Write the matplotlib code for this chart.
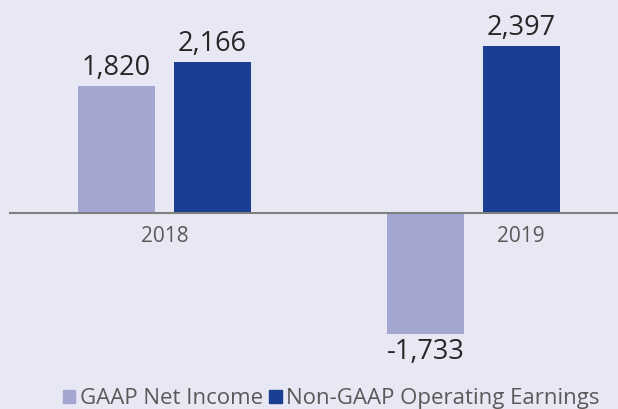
import matplotlib.pyplot as plt
from matplotlib.patches import Patch

years = ["2018", "2019"]
gaap_net_income = [1820, -1733]
non_gaap_earnings = [2166, 2397]
series_names = ["GAAP Net Income", "Non-GAAP Operating Earnings"]

BG = "#E8E8F4"
LIGHT = "#A3A6D1"
DARK = "#1A3F92"

plt.rcParams["font.family"] = ["Open Sans", "DejaVu Sans"]

fig = plt.figure(figsize=(6.18, 4.09), dpi=100, facecolor=BG)
ax = fig.add_axes([0, 0, 1, 1], facecolor=BG)

width = 0.249
offset = 0.155
xs = range(len(years))

b1 = ax.bar([x - offset for x in xs], gaap_net_income, width, color=LIGHT, zorder=2)
b2 = ax.bar([x + offset for x in xs], non_gaap_earnings, width, color=DARK, zorder=2)

for bars in (b1, b2):
    for rect in bars:
        v = rect.get_height()
        ax.annotate(f"{v:,.0f}",
                    (rect.get_x() + rect.get_width() / 2, v),
                    xytext=(0, 3 if v >= 0 else -3), textcoords="offset points",
                    ha="center", va="bottom" if v >= 0 else "top",
                    fontsize=19.5, color="#262626")

ax.set_xlim(-0.532, 1.468)
ax.set_ylim(-2812, 3056)
ax.axhline(0, xmin=10 / 618, xmax=1, color="#7F7F7F", lw=1.5, zorder=3)

# category labels (2019 label sits under the positive bar)
ax.text(0, -180, years[0], ha="center", va="top", fontsize=15, color="#595959")
ax.text(1 + offset, -180, years[1], ha="center", va="top", fontsize=15, color="#595959")

for s in ax.spines.values():
    s.set_visible(False)
ax.set_xticks([])
ax.set_yticks([])

handles = [Patch(color=LIGHT), Patch(color=DARK)]
fig.legend(handles, series_names, loc="lower center", bbox_to_anchor=(0.536, -0.05),
           ncol=2, frameon=False, fontsize=16, handlelength=0.55, handleheight=0.55,
           handletextpad=0.2, columnspacing=0.3, labelcolor="#595959")

fig.savefig("out.png", dpi=100, facecolor=BG)
